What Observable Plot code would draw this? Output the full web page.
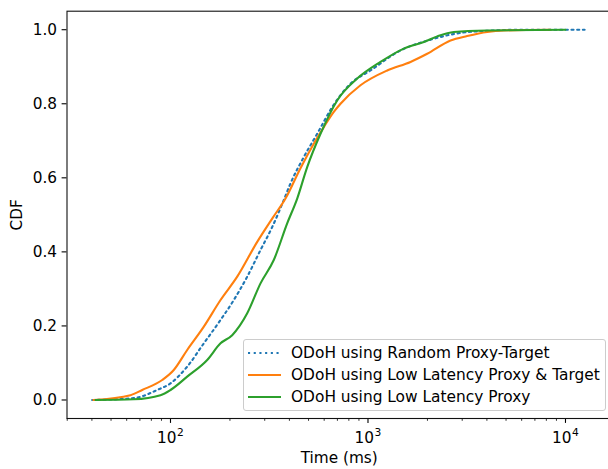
<!DOCTYPE html>
<html>
<head>
<meta charset="utf-8">
<script src="https://cdn.jsdelivr.net/npm/d3@7"></script>
<script src="https://cdn.jsdelivr.net/npm/@observablehq/plot@0.6"></script>
<style>
  html, body { margin: 0; padding: 0; background: white; overflow: hidden; }
  #wrap { position: relative; width: 608px; height: 469px; overflow: hidden; }
  #wrap > svg { max-width: none !important; position: absolute; left: 0; top: 0; }
  #legend {
    position: absolute; left: 242.5px; top: 339px; height: 70px; padding-right: 5px;
    border: 1px solid #cccccc; border-radius: 3px; background: rgba(255,255,255,0.8);
    font-family: "DejaVu Sans", sans-serif; font-size: 15.4px; color: #000;
  }
  .row { position: relative; height: 22px; white-space: nowrap; }
  .row svg { position: absolute; left: 4px; top: 1px; }
  .row span { display: inline-block; margin-left: 47.5px; line-height: 22px; }
</style>
</head>
<body>
<div id="wrap"></div>
<script>
// ---- data ----
const seriesNames = [
  "ODoH using Random Proxy-Target",
  "ODoH using Low Latency Proxy & Target",
  "ODoH using Low Latency Proxy"
];
const seriesColors = ["#1f77b4", "#ff7f0e", "#2ca02c"];

const blueTime = [40.1,65.2,85.6,100,121.5,147.5,179.2,209.2,244.6,285.6,327.3,374.7,405.2,473.0,553.2,658.7,815.6,1030,1461,2073,2829,4014,5919,12500];
const blueCdf  = [0,0.005,0.027,0.045,0.090,0.153,0.216,0.270,0.333,0.405,0.467,0.540,0.585,0.656,0.719,0.791,0.854,0.890,0.944,0.973,0.990,0.997,1.0,1.0];

const orangeTime = [40.7,62.7,71.9,90.8,103.9,121.5,147.5,179.2,217.7,274.8,327.3,382.2,455.1,531.6,597.5,671.2,725.8,916.2,1251,1642,1994,2617,3179,4014,4872,8400];
const orangeCdf  = [0,0.013,0.027,0.054,0.081,0.135,0.198,0.270,0.333,0.427,0.490,0.544,0.626,0.692,0.737,0.778,0.800,0.850,0.890,0.913,0.935,0.971,0.983,0.994,0.998,1.0];

const greenTime = [41.7,65.2,89.0,100,121.5,153.4,179.2,205.3,244.6,285.6,333.4,389.8,438.1,492.2,574.9,698.4,881.7,1157,1518,1917,2241,2720,4014,10000];
const greenCdf  = [0,0.002,0.013,0.027,0.063,0.108,0.153,0.175,0.234,0.315,0.378,0.477,0.544,0.629,0.719,0.809,0.868,0.913,0.949,0.967,0.982,0.994,0.998,1.0];

const xMajorTicks = [100, 1000, 10000];
const yTicks = [0, 0.2, 0.4, 0.6, 0.8, 1.0];
const xLabel = "Time (ms)";
const yLabel = "CDF";

// ---- build tables ----
const toRows = (t, c) => t.map((x, i) => ({time: x, cdf: c[i]}));
const blue = toRows(blueTime, blueCdf);
const orange = toRows(orangeTime, orangeCdf);
const green = toRows(greenTime, greenCdf);

const xDomain = [29.92, 17100];
const xMinorTicks = [];
for (const e of [1, 2, 3]) for (let m = 2; m <= 9; m++) {
  const v = m * Math.pow(10, e);
  if (v > xDomain[0] && v < xDomain[1]) xMinorTicks.push(v);
}
const FS = 15.3;

const chart = Plot.plot({
  width: 616,
  height: 469,
  marginLeft: 66.5,
  marginRight: 5,
  marginTop: 10.7,
  marginBottom: 51,
  x: {type: "log", domain: xDomain},
  y: {domain: [-0.05, 1.05]},
  style: {fontFamily: "DejaVu Sans, sans-serif", fontSize: FS + "px", color: "black", background: "white"},
  marks: [
    Plot.axisY(yTicks, {tickSize: 4.9, tickPadding: 5, tickFormat: d3.format(".1f"), fontSize: FS,
      label: yLabel, labelAnchor: "center", labelArrow: "none", labelOffset: 56, strokeWidth: 1.1}),
    Plot.axisX(xMinorTicks, {tickSize: 2.8, tickFormat: () => "", label: null, strokeWidth: 0.8}),
    Plot.axisX(xMajorTicks, {tickSize: 4.9, tickPadding: 8.5, fontSize: FS,
      tickFormat: d => "10^" + Math.round(Math.log10(d)),
      label: xLabel, labelAnchor: "center", labelArrow: "none", labelOffset: 44, strokeWidth: 1.1}),
    Plot.line(blue, {x: "time", y: "cdf", stroke: seriesColors[0], strokeWidth: 2.1, strokeDasharray: "2.1,3.6", curve: "monotone-x"}),
    Plot.line(orange, {x: "time", y: "cdf", stroke: seriesColors[1], strokeWidth: 2.1, curve: "monotone-x"}),
    Plot.line(green, {x: "time", y: "cdf", stroke: seriesColors[2], strokeWidth: 2.1, curve: "monotone-x"}),
    Plot.frame({stroke: "#111", strokeWidth: 1.1})
  ]
});
chart.style.maxWidth = "none";

// render "10^n" tick labels with a real superscript
chart.querySelectorAll("text").forEach(t => {
  const m = /^10\^(\d)$/.exec(t.textContent);
  if (!m) return;
  t.textContent = "10";
  const s = document.createElementNS("http://www.w3.org/2000/svg", "tspan");
  s.setAttribute("font-size", (FS * 0.7).toFixed(1));
  s.setAttribute("dy", "-0.6em");
  s.setAttribute("dx", "0.5");
  s.textContent = m[1];
  t.appendChild(s);
});

const wrap = document.getElementById("wrap");
wrap.appendChild(chart);

// legend
const legend = document.createElement("div");
legend.id = "legend";
seriesNames.forEach((name, i) => {
  const row = document.createElement("div");
  row.className = "row";
  row.style.marginTop = (i === 0 ? 1.5 : 0) + "px";
  const dash = i === 0 ? ' stroke-dasharray="2.1,3.6"' : "";
  row.innerHTML = `<svg width="34" height="20"><line x1="0" y1="10" x2="33" y2="10" stroke="${seriesColors[i]}" stroke-width="2.1"${dash}/></svg><span></span>`;
  row.querySelector("span").textContent = name;
  legend.appendChild(row);
});
wrap.appendChild(legend);
</script>
</body>
</html>
